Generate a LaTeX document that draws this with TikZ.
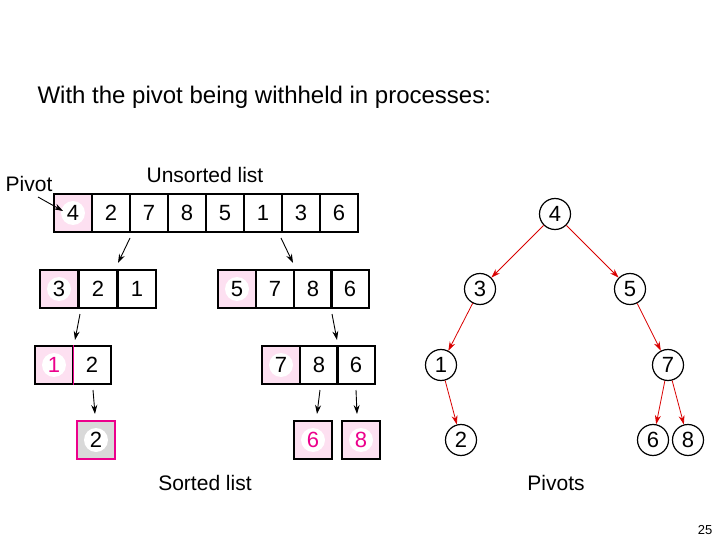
\documentclass[tikz,border=0pt]{standalone}
\usepackage{fontspec}
\setmainfont{Liberation Sans}
\usetikzlibrary{arrows.meta}
\begin{document}
\begin{tikzpicture}[x=1pt,y=-1pt,
  cell/.style={draw,line width=1.2pt,minimum width=38pt,minimum height=38pt,inner sep=0pt,font=\fontsize{22}{26}\selectfont},
  piv/.style={cell,fill=magenta!12,path picture={\fill[white] (path picture bounding box.center) circle (12pt);}},
  arr/.style={-{Stealth[length=9pt,width=6pt]},line width=0.9pt},
  tn/.style={circle,draw,line width=1.2pt,minimum size=31pt,inner sep=0pt,font=\fontsize{22}{26}\selectfont},
  tarr/.style={-{Stealth[length=9pt,width=6pt]},red!85!black,line width=0.8pt},
  lab/.style={font=\fontsize{21}{25}\selectfont}]
\useasboundingbox (0,0) rectangle (720,540);
\node[font=\fontsize{24}{28}\selectfont,anchor=west] (title) at (34,97) {With the pivot being withheld in processes:};
\node[lab] (uns) at (205,175) {Unsorted list};
\node[lab] (pl) at (29,184) {Pivot};
\node[lab] (sl) at (205,483) {Sorted list};
\node[lab] (pv) at (556,483) {Pivots};
\node[font=\fontsize{13}{15}\selectfont] (pg) at (705,530) {25};
% top row
\foreach \v [count=\i] in {4,2,7,8,5,1,3,6}{
  \ifnum\i=1 \node[piv] (t\i) at ({54+38*(\i-1)+19},213) {\v};
  \else \node[cell] (t\i) at ({54+38*(\i-1)+19},213) {\v};\fi}
% row 2
\node[piv] (a1) at (59,289) {3};
\node[cell] (a2) at (98,289) {2};
\node[cell] (a3) at (137,289) {1};
\node[piv] (b1) at (237,289) {5};
\node[cell] (b2) at (275,289) {7};
\node[cell] (b3) at (313,289) {8};
\node[cell] (b4) at (350,289) {6};
% row 3
\node[piv,text=magenta] (c1) at (54,365) {1};
\node[cell] (c2) at (92,365) {2};
\node[piv] (d1) at (281,365) {7};
\node[cell] (d2) at (319,365) {8};
\node[cell] (d3) at (356,365) {6};
\draw[magenta,line width=0.8pt] (c1.north east) -- (c1.south east);
% row 4
\node[cell,draw=magenta,fill=black!15,path picture={\fill[white] (path picture bounding box.center) circle (12pt);}] (e1) at (96,440) {2};
\node[piv,text=magenta] (f1) at (313,440) {6};
\node[piv,text=magenta] (f2) at (361,440) {8};
% arrows
\coordinate (p0) at (38,197); \coordinate (q0) at (63,211);
\coordinate (p1) at (130,238); \coordinate (q1) at (118,263);
\coordinate (p2) at (281,238); \coordinate (q2) at (293,263);
\coordinate (p3) at (80,314); \coordinate (q3) at (75,340);
\coordinate (p4) at (332,314); \coordinate (q4) at (337,340);
\coordinate (p5) at (93,390); \coordinate (q5) at (95,414);
\coordinate (p6) at (320,390); \coordinate (q6) at (317,414);
\coordinate (p7) at (356,390); \coordinate (q7) at (357,414);
\foreach \k in {0,...,7}{\draw[arr] (p\k) -- (q\k);}
% tree
\node[tn] (n4) at (555,214) {4};
\node[tn] (n3) at (480,289) {3};
\node[tn] (n5) at (630,289) {5};
\node[tn] (n1) at (441,365) {1};
\node[tn] (n7) at (668,365) {7};
\node[tn] (n2) at (461,440) {2};
\node[tn] (n6) at (653,440) {6};
\node[tn] (n8) at (688,440) {8};
\draw[tarr] (n4) -- (n3);
\draw[tarr] (n4) -- (n5);
\draw[tarr] (n3) -- (n1);
\draw[tarr] (n1) -- (n2);
\draw[tarr] (n5) -- (n7);
\draw[tarr] (n7) -- (n6);
\draw[tarr] (n7) -- (n8);
\end{tikzpicture}
\end{document}
